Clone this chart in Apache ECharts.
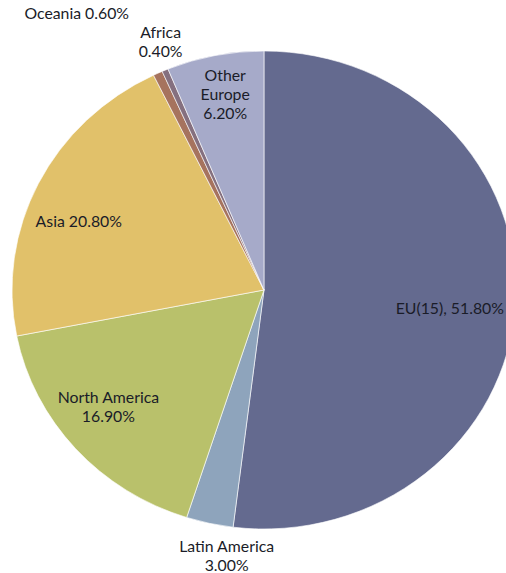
<!DOCTYPE html>
<html>
<head>
<meta charset="utf-8">
<script src="https://cdn.jsdelivr.net/npm/echarts@6/dist/echarts.min.js"></script>
<style>
  html, body { margin: 0; padding: 0; background: #fff; overflow: hidden; }
  /* the original pie is a bit wider than tall, so stretch the chart sideways */
  #main { width: 480px; height: 573px; transform: scaleX(1.0542); transform-origin: 0 0; }
</style>
</head>
<body>
<div id="main"></div>
<script>
var regions = ['EU(15)', 'Latin America', 'North America', 'Asia', 'Oceania', 'Africa', 'Other Europe'];
var shares = [51.8, 3.0, 16.9, 20.8, 0.6, 0.4, 6.2];
var colors = ['#646a8f', '#8ea4bc', '#b9c16b', '#e1c16a', '#a6735e', '#85707f', '#a6aac9'];
var labelTexts = [
    'EU(15), 51.80%',
    'Latin America\n3.00%',
    'North America\n16.90%',
    'Asia 20.80%',
    'Oceania 0.60%',
    'Africa\n0.40%',
    'Other\nEurope\n6.20%'
];
// label shifts from the default inside spot
var labelShift = [[54, 11], [-9, 146], [-56, 35], [-66, -14], [-126, -166], [-50, -136], [-13, -76]];

var chart = echarts.init(document.getElementById('main'), null, {renderer: 'svg'});

var data = regions.map(function (name, i) {
    return {
        name: name,
        value: shares[i],
        itemStyle: { color: colors[i] },
        label: {
            formatter: labelTexts[i],
            offset: labelShift[i]
        }
    };
});

chart.setOption({
    animation: false,
    series: [
        {
            type: 'pie',
            center: [250.4, 290],
            radius: [0, 239],
            startAngle: 90,
            clockwise: true,
            avoidLabelOverlap: false,
            itemStyle: {
                borderColor: '#ffffff',
                borderWidth: 0.6
            },
            label: {
                show: true,
                position: 'inside',
                color: '#1a1c28',
                fontFamily: 'Lato',
                fontSize: 15,
                lineHeight: 19,
                align: 'center'
            },
            labelLine: { show: false },
            emphasis: { disabled: true },
            data: data
        }
    ]
});
</script>
</body>
</html>
